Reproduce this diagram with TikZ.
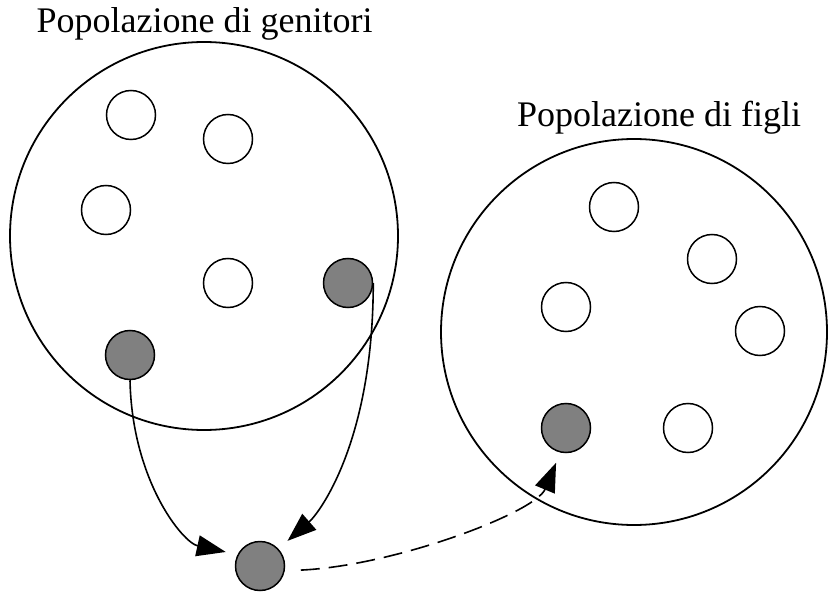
\documentclass[tikz,border=0pt]{standalone}
\usepackage{fontspec}
\setmainfont{Liberation Serif}
\usetikzlibrary{arrows.meta}
\begin{document}
\begin{tikzpicture}[x=1pt,y=-1pt,
  pop/.style={draw,line width=1.8pt},
  ind/.style={circle,draw,line width=1.5pt,minimum size=49pt,inner sep=0pt,fill=white},
  sel/.style={ind,fill=gray50},
  link/.style={line width=1.6pt,-{Triangle[length=29pt,width=21pt]}},
  ttl/.style={anchor=base,font=\fontsize{36}{36}\selectfont}]
\definecolor{gray50}{HTML}{808080}
\useasboundingbox (0,0) rectangle (829,593);
% the two populations
\draw[pop] (204,236) circle (194);
\draw[pop] (634,332) circle (193);
\node[ttl] (lp) at (204.5,33) {Popolazione di genitori};
\node[ttl] (lf) at (659,127) {Popolazione di figli};
% parents
\node[ind] (p1) at (131,115) {};
\node[ind] (p2) at (228,139) {};
\node[ind] (p3) at (106,210) {};
\node[ind] (p4) at (228,283) {};
\node[sel] (p5) at (348,283) {};
\node[sel] (p6) at (130,355) {};
% offspring
\node[ind] (c1) at (614,207) {};
\node[ind] (c2) at (712,259) {};
\node[ind] (c3) at (566,307) {};
\node[ind] (c4) at (760,331) {};
\node[sel] (c5) at (566,428) {};
\node[ind] (c6) at (688,428) {};
% offspring produced by crossover
\node[sel] (bt) at (260,566) {};
\draw[link,shorten >=12pt] (p6.south) .. controls +(2,100) and +(-55,-12) .. (bt.153);
\draw[link,shorten >=12pt] (p5.east) .. controls +(0,160) and +(40,-35) .. (bt.43);
\draw[link,dash pattern=on 19pt off 9pt,shorten <=16pt,shorten >=11pt]
  (bt.-11) .. controls +(110,-5) and +(-25,60) .. (c5.-103);
\end{tikzpicture}
\end{document}
